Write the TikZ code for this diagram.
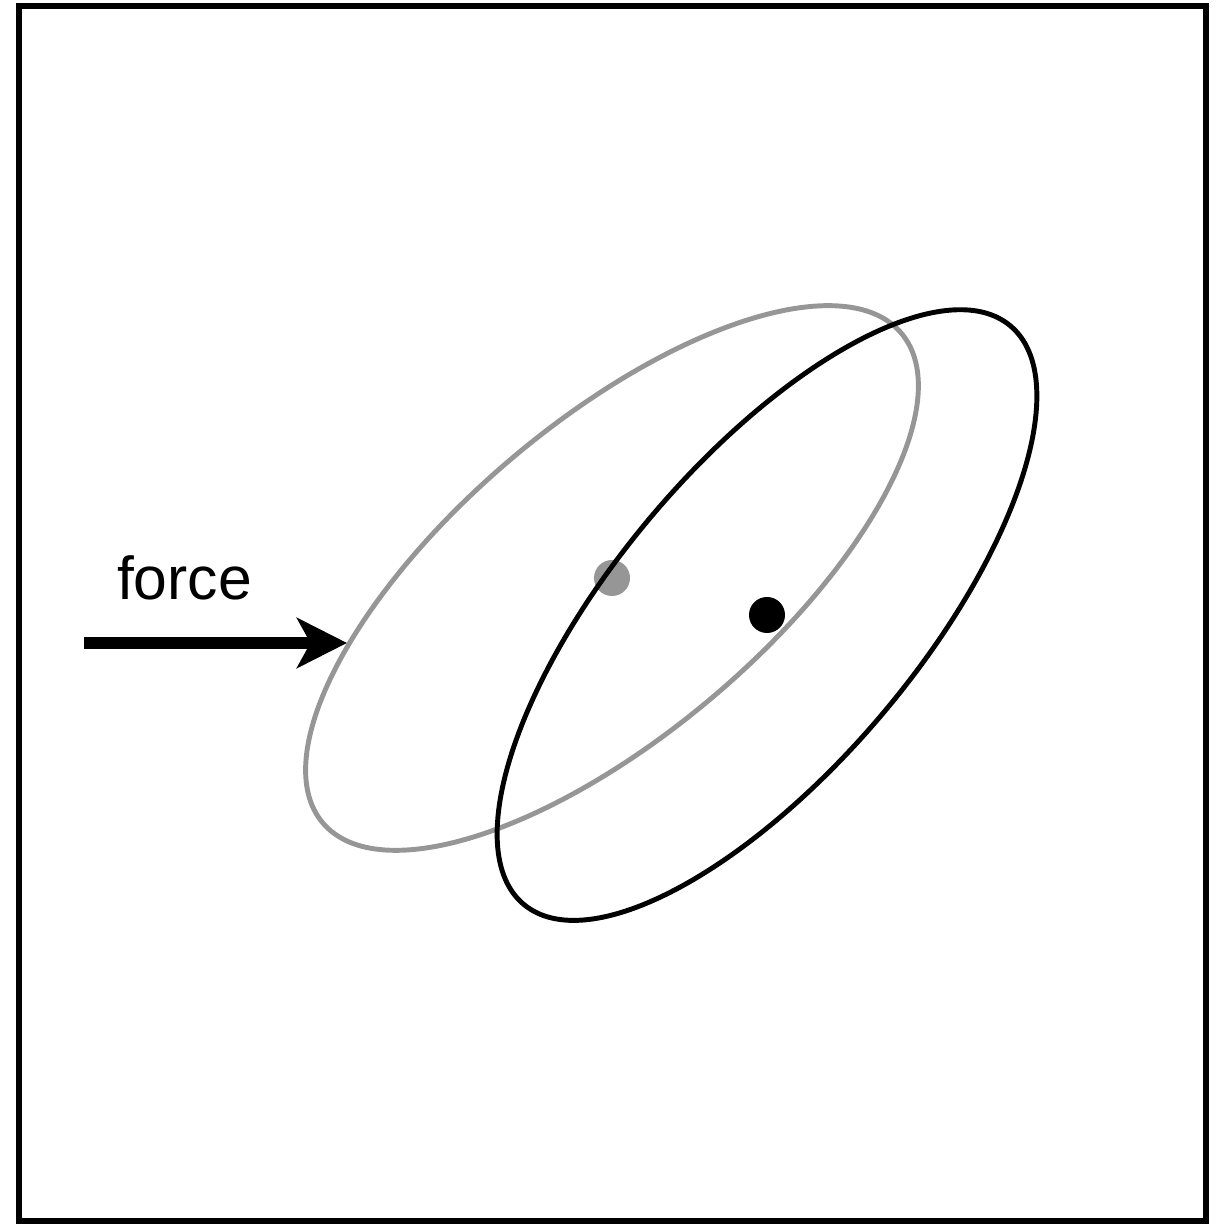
\documentclass[tikz,border=0pt]{standalone}
\usepackage{fontspec}
\setmainfont{Liberation Sans}
\usetikzlibrary{arrows.meta}
\definecolor{midgray}{RGB}{150,150,150}
\tikzset{
  frame/.style={draw=black, line width=3.4pt},
  oval/.style={line width=2.8pt},
  forcearrow/.style={line width=6.8pt, -{Stealth[length=1cm, width=1cm, inset=0.27cm]}},
  lbl/.style={font=\fontsize{34.5pt}{40pt}\selectfont, inner sep=0pt, anchor=base}
}
\begin{document}
\begin{tikzpicture}[x=0.02cm, y=0.02cm]
  \useasboundingbox (0,0) rectangle (1228,1227);
  \draw[frame] (19,6) rectangle (1206,1221);
  % gray ellipse (before)
  \coordinate (gc) at (612,649);
  \draw[oval, midgray, rotate around={40.25:(gc)}] (gc) ellipse [x radius=379, y radius=156];
  \fill[midgray] (gc) circle [radius=18];
  % black ellipse (after)
  \coordinate (bc) at (767,612);
  \draw[oval, black, rotate around={49.9:(bc)}] (bc) ellipse [x radius=378, y radius=152];
  \fill[black] (bc) circle [radius=18];
  % force arrow
  \coordinate (as) at (84,584);
  \coordinate (at) at (347,584);
  \draw[forcearrow] (as) -- (at);
  \node[lbl] (force) at (184.5,627) {force};
\end{tikzpicture}
\end{document}
